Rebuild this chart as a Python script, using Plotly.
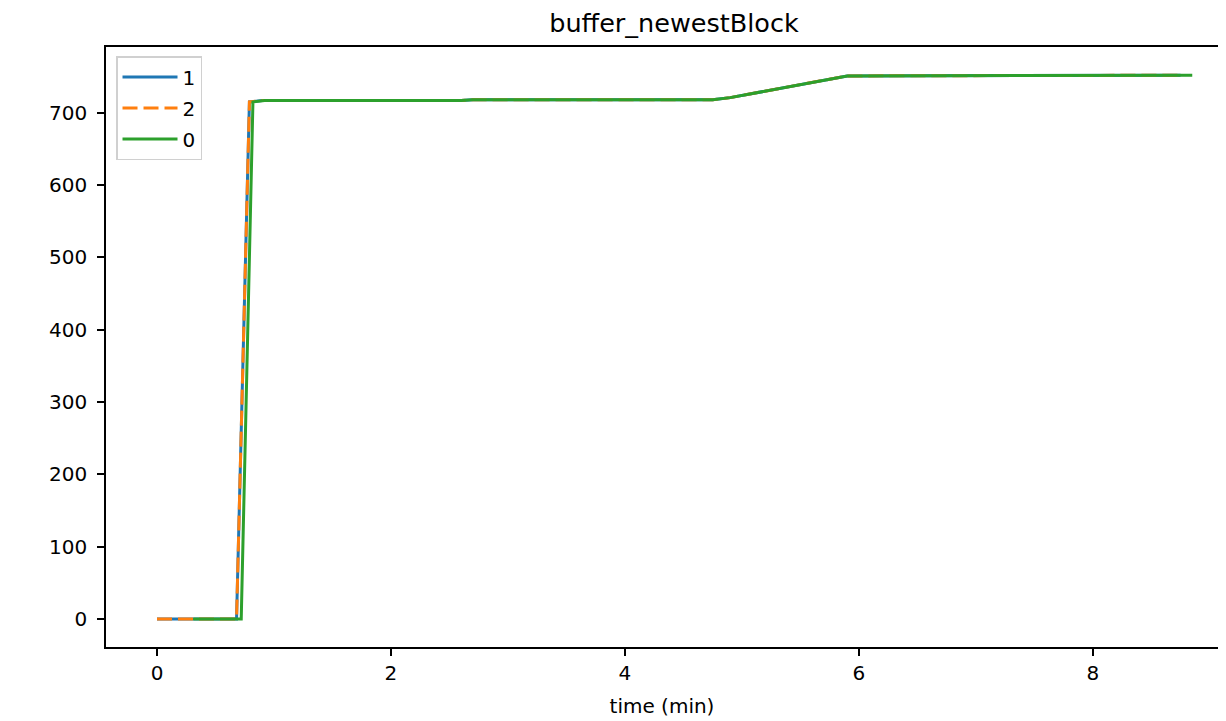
import plotly.graph_objects as go

# series "1"
t_1 = [0, 0.68, 0.79, 0.9, 2.6, 2.7, 4.75, 4.9, 5.9, 6.35, 6.45, 8.75]
v_1 = [0, 0, 715, 717, 717, 718, 718, 721, 751, 751, 752, 752]
# series "2"
t_2 = [0, 0.68, 0.79, 0.9, 2.6, 2.7, 4.75, 4.9, 5.9, 6.35, 6.45, 8.75]
v_2 = [0, 0, 715, 717, 717, 718, 718, 721, 751, 751, 752, 752]
# series "0"
t_0 = [0.31, 0.72, 0.82, 0.92, 2.6, 2.7, 4.75, 4.9, 5.9, 6.35, 6.45, 8.85]
v_0 = [0, 0, 715, 717, 717, 718, 718, 721, 751, 751, 752, 752]

x_ticks = [0, 2, 4, 6, 8]
y_ticks = [0, 100, 200, 300, 400, 500, 600, 700]

LW = 3.0
fig = go.Figure()
fig.add_trace(go.Scatter(x=t_1, y=v_1, mode="lines", name="1", legendgroup="g1",
                         line=dict(color="#1f77b4", width=LW)))
fig.add_trace(go.Scatter(x=t_2, y=v_2, mode="lines", name="2", legendgroup="g2",
                         line=dict(color="#ff7f0e", width=LW, dash="15px,6px")))
fig.add_trace(go.Scatter(x=t_0, y=v_0, mode="lines", name="0", legendgroup="g0",
                         line=dict(color="#2ca02c", width=LW)))

font = "DejaVu Sans, sans-serif"
# page body has an 8px margin, so offsets compensate for it
fig.update_layout(
    width=1226, height=721,
    paper_bgcolor="white", plot_bgcolor="white",
    margin=dict(l=98, r=16, t=39, b=82),
    font=dict(family=font, size=20, color="black"),
    title=dict(text="buffer_newestBlock", x=666 / 1226, xanchor="center",
               y=1 - 15 / 721, yanchor="middle", font=dict(size=25.5)),
    showlegend=True,
    legend=dict(x=0.009, y=0.985, xanchor="left", yanchor="top",
                bgcolor="rgba(255,255,255,0.8)", bordercolor="#d0d0d0",
                borderwidth=1.5, font=dict(size=20), itemwidth=55,
                tracegroupgap=2),
    xaxis=dict(range=[-0.436, 9.07], tickvals=x_ticks, ticks="outside",
               ticklen=7, tickwidth=1.6, tickcolor="black",
               showline=True, linecolor="black", linewidth=1.6, mirror=True,
               showgrid=False, zeroline=False,
               tickfont=dict(size=20),
               title=dict(text="time (min)", font=dict(size=20), standoff=15)),
    yaxis=dict(range=[-38.7, 791], tickvals=y_ticks, ticks="outside",
               ticklen=7, tickwidth=1.6, tickcolor="black",
               showline=True, linecolor="black", linewidth=1.6, mirror=True,
               showgrid=False, zeroline=False, ticklabelstandoff=6,
               tickfont=dict(size=20)),
)

fig.write_html("out.html")
